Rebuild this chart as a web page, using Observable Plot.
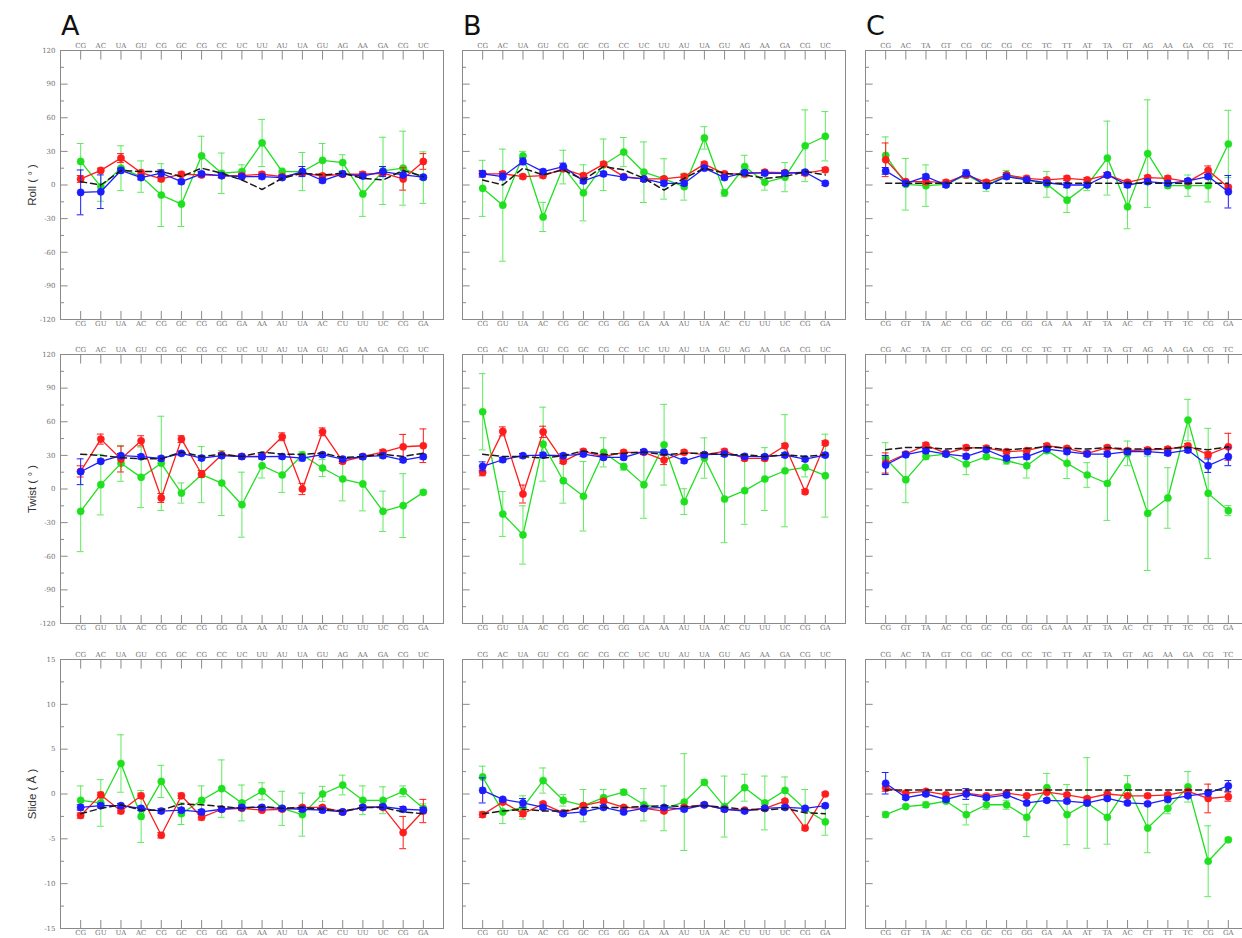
<!DOCTYPE html>
<html><head><meta charset="utf-8">
<script src="https://cdn.jsdelivr.net/npm/d3@7"></script>
<script src="https://cdn.jsdelivr.net/npm/@observablehq/plot@0.6"></script>
<style>
html,body{margin:0;padding:0;overflow:hidden;background:#fff;}
#wrap{position:relative;width:1242px;height:938px;overflow:hidden;background:#fff;}
.panel{position:absolute;width:433px;height:309px;}
.letter{position:absolute;font-family:"DejaVu Sans",sans-serif;font-size:27px;line-height:27px;color:#111;}
.ylab{position:absolute;width:140px;text-align:center;transform:rotate(-90deg);font-family:"Liberation Sans",sans-serif;font-size:11.5px;line-height:14px;color:#333;white-space:nowrap;}
</style></head><body><div id="wrap"></div>
<script>
// ---- category labels ----
const topAB = ["CG","AC","UA","GU","CG","GC","CG","CC","UC","UU","AU","UA","GU","AG","AA","GA","CG","UC"];
const botAB = ["CG","GU","UA","AC","CG","GC","CG","GG","GA","AA","AU","UA","AC","CU","UU","UC","CG","GA"];
const topC  = ["CG","AC","TA","GT","CG","GC","CG","CC","TC","TT","AT","TA","GT","AG","AA","GA","CG","TC"];
const botC  = ["CG","GT","TA","AC","CG","GC","CG","GG","GA","AA","AT","TA","AC","CT","TT","TC","CG","GA"];

// ---- Roll (degrees) ----
const rollA_black = [3, 0, 13, 12, 12, 7.5, 15, 10.5, 4.5, -4, 6, 10.5, 9, 10.5, 6, 4.5, 13, 7.5];
const rollA_red   = [5.4, 13, 24, 11, 5.4, 9.6, 9, 8.4, 8.4, 9.6, 7.5, 10.5, 8.1, 9.6, 9.6, 10.5, 5.4, 21];
const rollA_redSd = [3, 2, 4, 2, 2, 2, 2, 2, 2, 2, 2, 2, 2, 2, 2, 2, 10, 7];
const rollA_blue  = [-6.6, -6, 13, 6.6, 10.5, 3, 10, 8.4, 7.5, 7.5, 6.6, 12, 4, 10, 8, 12, 9, 7];
const rollA_blueSd= [20, 15, 2, 2, 3, 2, 2, 2, 2, 2, 2, 4.5, 2, 2, 2, 4.5, 2, 2];
const rollA_green = [21, -1.5, 15, 7.5, -9, -17, 26, 10.5, 12, 37.5, 12, 12, 22, 20, -8, 12.6, 15, 6.6];
const rollA_greenSd=[16, 13, 20, 14, 28, 20, 17.5, 18, 6, 21, 3, 17, 15, 7, 20, 30, 33, 23];

const rollB_black = [4.5, 0, 15, 9, 13.5, 4.5, 16.5, 13.5, 6, -4.5, 6, 15, 10.5, 9, 6, 7.5, 12, 9];
const rollB_red   = [10, 10, 7.5, 8.4, 14.4, 8.4, 18.6, 7.5, 5.4, 5.4, 7.5, 18.6, 10, 10, 11.4, 11, 10.5, 13.5];
const rollB_redSd = [2, 2, 2, 2, 2, 2, 2, 2, 2, 2, 2, 2, 2, 2, 2, 2, 2, 2];
const rollB_blue  = [10, 7.5, 21, 12, 16.5, 3.6, 10, 7, 5.4, 1.5, 1.5, 15, 6.6, 11, 10.5, 10.5, 11.4, 1.5];
const rollB_blueSd= [3, 3, 3, 2, 3, 2, 2, 2, 2, 2, 2, 2, 2, 2, 2, 2, 2, 2];
const rollB_green = [-3, -18, 26, -28.5, 16, -7, 18, 29.4, 11.4, 5.4, -1.5, 42, -7, 16.5, 2.4, 7, 35, 43.5];
const rollB_greenSd=[25, 50, 4, 13, 15, 25, 23, 13, 27, 18, 12, 10, 3, 10, 7, 13, 32, 22];

const rollC_black = [1.5, 1.5, 1.5, 1.5, 1.5, 1.5, 1.5, 1.5, 1.5, 1.5, 1.5, 1.5, 1.5, 1.5, 1.5, 1.5, 1.5, 1.5];
const rollC_red   = [22.5, 3, 3, 2.4, 9, 2.4, 9, 6, 4.5, 6, 4.5, 9, 2.4, 6.6, 6, 3, 13, -2];
const rollC_redSd = [15, 2, 2, 2, 2, 2, 2, 2, 2, 2, 2, 2, 2, 2, 2, 2, 4, 2];
const rollC_blue  = [12.6, 1.5, 7.5, 0, 10.5, -0.6, 7.5, 4.5, 2, 0, 0, 9, 0, 3, 1.5, 3.6, 7.5, -6];
const rollC_blueSd= [3, 2, 2, 2, 3, 2, 2, 2, 2, 2, 2, 2, 2, 2, 2, 2, 2, 14.5];
const rollC_green = [26.4, 0.6, -0.6, 0.6, 9, -0.6, 9, 4.5, 0.6, -13.5, 0, 24, -19.5, 28, -0.6, -0.6, -0.6, 36.6];
const rollC_greenSd=[16.5, 23, 18.5, 2, 3, 5, 4, 2, 11.5, 11, 5, 33, 19.5, 48, 2, 9.5, 14.5, 30];

// ---- Twist (degrees) ----
const twistA_black = [31, 30, 28, 27, 27, 33, 29, 31, 29, 33, 31, 31, 32, 28, 29, 31, 29, 32];
const twistA_red   = [15.7, 44.5, 26.7, 43, -8, 44.5, 13.4, 30.6, 29, 29, 46.6, 0, 51, 24.7, 29, 33, 37.7, 38.6];
const twistA_redSd = [5, 4.5, 11.5, 4.5, 4, 3, 3, 2, 2, 2, 3.5, 5, 3.5, 2, 2, 2, 11, 15];
const twistA_blue  = [15.4, 24.7, 29.7, 28.8, 27.3, 31.8, 27.6, 29.7, 29, 28.8, 29, 27.6, 30.6, 26.7, 28.8, 29.7, 25.8, 28.8];
const twistA_blueSd= [11.5, 2, 2, 2, 2, 2, 2, 2, 2, 2, 2, 2.5, 2, 2, 2, 2, 2, 2];
const twistA_green = [-19.9, 3.9, 22.9, 10.4, 22.9, -3.6, 12.8, 5.3, -14, 20.8, 12.5, 30.3, 18.7, 8.9, 4.5, -19.9, -14.8, -3];
const twistA_greenSd=[36, 27, 16, 27, 42, 9, 25, 29, 29, 11, 15.5, 3, 7.5, 19.5, 24, 18, 28.5, 2];

const twistB_black = [31, 29, 29, 27.6, 29.7, 34, 30.6, 32, 33, 30.6, 32, 32, 30.6, 30.6, 29, 30.6, 29, 30.6];
const twistB_red   = [14.8, 51.4, -4.5, 51, 24.7, 33.6, 28.8, 32.7, 32.7, 25.8, 32.7, 30.6, 33.6, 27.3, 27.3, 38.6, -2.4, 41];
const twistB_redSd = [3, 4, 8, 5, 2, 2, 2, 2, 2, 4, 2, 2, 2, 2, 2, 2, 2, 2];
const twistB_blue  = [20.2, 26.1, 29.7, 30.3, 29.7, 31.2, 28.2, 28.2, 33.3, 32.7, 25.2, 30.6, 31.2, 29.1, 28.8, 30.3, 26.7, 30.3];
const twistB_blueSd= [4, 2, 2, 2, 2, 2, 2, 2, 2, 2, 2, 2, 2, 2, 2, 2, 2, 2];
const twistB_green = [68.9, -22.3, -41, 40, 7.4, -6.5, 32.7, 19.9, 3.9, 39.5, -11.3, 27.6, -8.9, -1.5, 8.9, 16.3, 19.3, 11.9];
const twistB_greenSd=[34, 20, 26, 33, 20, 31, 13, 3, 30, 36, 11.5, 18, 39, 30, 28, 50, 8.5, 37];

const twistC_black = [35, 37, 37, 35.6, 36.5, 37, 35, 36.2, 37.7, 36.5, 35.6, 37, 35.6, 35.6, 36.2, 37, 35, 37.7];
const twistC_red   = [23.2, 31.2, 39.2, 31.8, 37, 36.5, 33.3, 34.2, 38.6, 36.2, 31.8, 37, 34.2, 35, 35.6, 38.6, 30.6, 37.7];
const twistC_redSd = [9, 2, 2, 2, 2, 2, 2, 2, 2, 2, 2, 2, 2, 2, 2, 2, 2.5, 12];
const twistC_blue  = [21.4, 30.6, 34.2, 31.2, 29.1, 35, 27.6, 28.8, 35.6, 33.3, 31.2, 31.2, 33.3, 33.3, 32, 34.7, 20.8, 28.8];
const twistC_blueSd= [8.5, 2, 2, 2, 2, 2, 2, 2, 2, 2, 2, 2, 2, 2, 2, 2, 6, 8];
const twistC_green = [27.3, 8.3, 29.1, 31.2, 22.3, 28.8, 25.2, 20.8, 34.2, 22.9, 12.5, 5, 31.8, -21.7, -8, 61.5, -3.9, -19.3];
const twistC_greenSd=[14, 20.5, 3, 2, 9.5, 2, 3, 11, 2, 13.5, 11, 33, 11, 51, 27, 18.5, 58, 4.5];

// ---- Slide (Å) ----
const slideA_black = [-2.2, -1.6, -1.2, -1.8, -1.8, -1.1, -1.2, -1.4, -1.6, -1.4, -1.6, -1.5, -1.7, -1.9, -1.5, -1.5, -2, -2.2];
const slideA_red   = [-2.4, -0.1, -1.9, -0.2, -4.6, -0.2, -2.6, -1.7, -1.6, -1.8, -1.7, -1.5, -1.5, -2.0, -1.5, -1.5, -4.3, -1.9];
const slideA_redSd = [0.3, 0.3, 0.3, 0.3, 0.3, 0.3, 0.3, 0.2, 0.2, 0.2, 0.2, 0.2, 0.2, 0.2, 0.2, 0.2, 1.8, 1.3];
const slideA_blue  = [-1.5, -1.3, -1.3, -1.6, -1.9, -1.8, -2.0, -1.7, -1.5, -1.5, -1.6, -1.7, -1.8, -2.0, -1.5, -1.4, -1.7, -1.8];
const slideA_blueSd= [0.3, 0.25, 0.25, 0.25, 0.25, 0.25, 0.25, 0.25, 0.25, 0.25, 0.25, 0.25, 0.25, 0.25, 0.25, 0.25, 0.3, 0.3];
const slideA_green = [-0.7, -1.0, 3.4, -2.5, 1.4, -2.2, -0.7, 0.6, -1.0, 0.3, -1.6, -2.3, 0, 1.0, -0.7, -0.7, 0.3, -1.6];
const slideA_greenSd=[1.6, 2.6, 3.2, 2.9, 1.8, 1.2, 1.6, 3.2, 2.0, 0.95, 1.9, 2.4, 0.85, 1.1, 1.6, 1.5, 0.6, 0.5];

const slideB_black = [-2.2, -1.9, -1.7, -1.9, -1.9, -1.5, -1.5, -1.5, -1.4, -1.3, -1.4, -1.3, -1.5, -1.7, -1.8, -1.6, -2.1, -2.2];
const slideB_red   = [-2.3, -0.9, -2.2, -1.1, -2.1, -1.3, -0.8, -1.5, -1.6, -1.9, -1.5, -1.2, -1.7, -1.8, -1.6, -0.8, -3.8, 0];
const slideB_redSd = [0.3, 0.2, 0.3, 0.2, 0.2, 0.2, 0.2, 0.2, 0.2, 0.2, 0.2, 0.2, 0.2, 0.2, 0.2, 0.2, 0.25, 0.2];
const slideB_blue  = [0.4, -0.6, -1.0, -1.5, -2.2, -2.0, -1.5, -2.0, -1.6, -1.5, -1.7, -1.2, -1.7, -1.9, -1.6, -1.5, -1.6, -1.3];
const slideB_blueSd= [1.4, 0.2, 0.5, 0.2, 0.2, 0.2, 0.2, 0.2, 0.2, 0.2, 0.2, 0.2, 0.2, 0.2, 0.2, 0.2, 0.2, 0.2];
const slideB_green = [1.9, -2.0, -1.5, 1.5, -0.7, -1.3, -0.4, 0.2, -1.2, -1.6, -0.9, 1.3, -1.4, 0.7, -1.0, 0.4, -1.7, -3.1];
const slideB_greenSd=[1.2, 1.3, 1.3, 1.4, 0.65, 1.8, 0.9, 0.3, 1.8, 2.5, 5.4, 0.3, 3.4, 1.5, 3.0, 1.5, 2.2, 1.5];

const slideC_black = [0.45, 0.45, 0.45, 0.45, 0.45, 0.45, 0.45, 0.45, 0.45, 0.45, 0.45, 0.45, 0.45, 0.45, 0.45, 0.45, 0.45, 0.45];
const slideC_red   = [0.7, 0.1, 0.3, -0.1, 0.1, -0.2, 0.1, -0.2, 0.2, -0.1, -0.5, 0, -0.2, -0.2, -0.1, 0.3, -0.5, -0.3];
const slideC_redSd = [0.4, 0.2, 0.2, 0.2, 0.2, 0.2, 0.2, 0.2, 0.2, 0.2, 0.2, 0.2, 0.2, 0.2, 0.2, 0.2, 1.6, 0.5];
const slideC_blue  = [1.2, -0.4, 0, -0.6, 0, -0.4, -0.1, -1.0, -0.7, -0.8, -1.0, -0.5, -1.0, -1.1, -0.6, -0.2, 0.1, 0.9];
const slideC_blueSd= [1.2, 0.2, 0.2, 0.2, 0.6, 0.2, 0.2, 0.2, 0.2, 0.2, 0.2, 0.2, 0.2, 0.2, 0.2, 0.2, 0.2, 0.6];
const slideC_green = [-2.3, -1.4, -1.2, -0.8, -2.3, -1.2, -1.2, -2.6, 0.7, -2.3, -1.0, -2.6, 0.8, -3.8, -1.6, 0.8, -7.5, -5.1];
const slideC_greenSd=[0.3, 0.2, 0.3, 0.2, 1.15, 0.5, 0.5, 2.15, 1.6, 3.35, 5.05, 3.0, 1.25, 2.75, 0.6, 1.7, 3.95, 0.2];

// ---- axis tick values ----
const angleMajor = [-120, -90, -60, -30, 0, 30, 60, 90, 120];
const angleMinor = [-105, -75, -45, -15, 15, 45, 75, 105];
const slideMajor = [-15, -10, -5, 0, 5, 10, 15];
const slideMinor = [-12.5, -7.5, -2.5, 2.5, 7.5, 12.5];
const yTitles = ["Roll ( \u00b0 )", "Twist ( \u00b0 )", "Slide ( \u00c5 )"];
const letters = ["A", "B", "C"];

// ---- layout ----
const FW = 383, FH = 269, ML = 40, MR = 10, MT = 20, MB = 20;
const colLeft = [60, 462, 865];
const rowTop = [50, 354, 659];
const COLORS = {red: "#ff1c1c", blue: "#1c1cff", green: "#1fe01f", greenErr: "#5fea5f", frame: "#8a8a8a", label: "#707070"};

const wrap = document.getElementById("wrap");

function series(vals, sds) {
  return vals.map((v, i) => ({x: i + 1, v, lo: v - (sds ? sds[i] : 0), hi: v + (sds ? sds[i] : 0)}));
}

function seriesMarks(data, color, errColor) {
  const cw = 0.17;
  return [
    Plot.ruleX(data, {x: "x", y1: "lo", y2: "hi", stroke: errColor, strokeWidth: 1}),
    Plot.ruleY(data, {y: "lo", x1: d => d.x - cw, x2: d => d.x + cw, stroke: errColor, strokeWidth: 1}),
    Plot.ruleY(data, {y: "hi", x1: d => d.x - cw, x2: d => d.x + cw, stroke: errColor, strokeWidth: 1}),
    Plot.line(data, {x: "x", y: "v", stroke: color, strokeWidth: 1.3}),
    Plot.dot(data, {x: "x", y: "v", r: 3.6, fill: color, stroke: color, strokeWidth: 0.5})
  ];
}

function makePanel(p) {
  const xs = d3.range(1, 19);
  const [y0, y1] = p.yDomain;
  const unitPerPx = (y1 - y0) / FH;
  const tickLen = 8 * unitPerPx;
  const black = series(p.black, null);
  const labelStyle = {fontSize: 7, fill: COLORS.label, fontFamily: "DejaVu Serif, serif", letterSpacing: "0.8px"};
  const marks = [
    Plot.frame({stroke: COLORS.frame, strokeWidth: 1}),
    Plot.ruleY(p.yMajor, {y: d => d, x1: 0, x2: 0.38, stroke: COLORS.frame}),
    Plot.ruleY(p.yMinor, {y: d => d, x1: 0, x2: 0.2, stroke: COLORS.frame}),
    Plot.ruleX(xs, {x: d => d, y1: y1, y2: y1 - tickLen * 1.2, stroke: COLORS.frame}),
    Plot.ruleX(xs, {x: d => d, y1: y0, y2: y0 + tickLen, stroke: COLORS.frame}),
    Plot.text(xs, {x: d => d, y: y1, text: d => p.top[d - 1], lineAnchor: "bottom", dy: -3, ...labelStyle}),
    Plot.text(xs, {x: d => d, y: y0, text: d => p.bottom[d - 1], lineAnchor: "top", dy: 2, ...labelStyle}),
    ...seriesMarks(series(p.green, p.greenSd), COLORS.green, COLORS.greenErr),
    ...seriesMarks(series(p.red, p.redSd), COLORS.red, COLORS.red),
    ...seriesMarks(series(p.blue, p.blueSd), COLORS.blue, COLORS.blue),
    Plot.line(black, {x: "x", y: "v", stroke: "#1a1a1a", strokeWidth: 1.5, strokeDasharray: "6,4"})
  ];
  if (p.showY) {
    marks.push(Plot.text(p.yMajor, {x: 0, y: d => d, text: d => String(d), textAnchor: "end", dx: -5, fontSize: 7, fill: COLORS.label, fontFamily: "DejaVu Serif, serif"}));
  }
  return Plot.plot({
    width: ML + FW + MR, height: MT + FH + MB,
    marginLeft: ML, marginRight: MR, marginTop: MT, marginBottom: MB,
    x: {domain: [0, 19], axis: null},
    y: {domain: p.yDomain, axis: null},
    style: {background: "transparent", overflow: "visible", maxWidth: "none"},
    marks
  });
}

const rows = [
  {dom: [-120, 120], maj: angleMajor, min: angleMinor, sets: [
    [rollA_black, rollA_red, rollA_redSd, rollA_blue, rollA_blueSd, rollA_green, rollA_greenSd],
    [rollB_black, rollB_red, rollB_redSd, rollB_blue, rollB_blueSd, rollB_green, rollB_greenSd],
    [rollC_black, rollC_red, rollC_redSd, rollC_blue, rollC_blueSd, rollC_green, rollC_greenSd]]},
  {dom: [-120, 120], maj: angleMajor, min: angleMinor, sets: [
    [twistA_black, twistA_red, twistA_redSd, twistA_blue, twistA_blueSd, twistA_green, twistA_greenSd],
    [twistB_black, twistB_red, twistB_redSd, twistB_blue, twistB_blueSd, twistB_green, twistB_greenSd],
    [twistC_black, twistC_red, twistC_redSd, twistC_blue, twistC_blueSd, twistC_green, twistC_greenSd]]},
  {dom: [-15, 15], maj: slideMajor, min: slideMinor, sets: [
    [slideA_black, slideA_red, slideA_redSd, slideA_blue, slideA_blueSd, slideA_green, slideA_greenSd],
    [slideB_black, slideB_red, slideB_redSd, slideB_blue, slideB_blueSd, slideB_green, slideB_greenSd],
    [slideC_black, slideC_red, slideC_redSd, slideC_blue, slideC_blueSd, slideC_green, slideC_greenSd]]}
];
const tops = [topAB, topAB, topC];
const bots = [botAB, botAB, botC];

rows.forEach((row, r) => {
  row.sets.forEach((s, c) => {
    const [black, red, redSd, blue, blueSd, green, greenSd] = s;
    const svg = makePanel({top: tops[c], bottom: bots[c], black, red, redSd, blue, blueSd, green, greenSd,
      yDomain: row.dom, yMajor: row.maj, yMinor: row.min, showY: c === 0});
    const div = document.createElement("div");
    div.className = "panel";
    div.style.left = (colLeft[c] - ML) + "px";
    div.style.top = (rowTop[r] - MT) + "px";
    div.appendChild(svg);
    wrap.appendChild(div);
  });
  const yl = document.createElement("div");
  yl.className = "ylab";
  yl.textContent = yTitles[r];
  yl.style.left = (32 - 70) + "px";
  yl.style.top = (rowTop[r] + FH / 2 - 7) + "px";
  wrap.appendChild(yl);
});

letters.forEach((L, c) => {
  const d = document.createElement("div");
  d.className = "letter";
  d.textContent = L;
  d.style.left = (colLeft[c] + 1) + "px";
  d.style.top = "12px";
  wrap.appendChild(d);
});
</script></body></html>
